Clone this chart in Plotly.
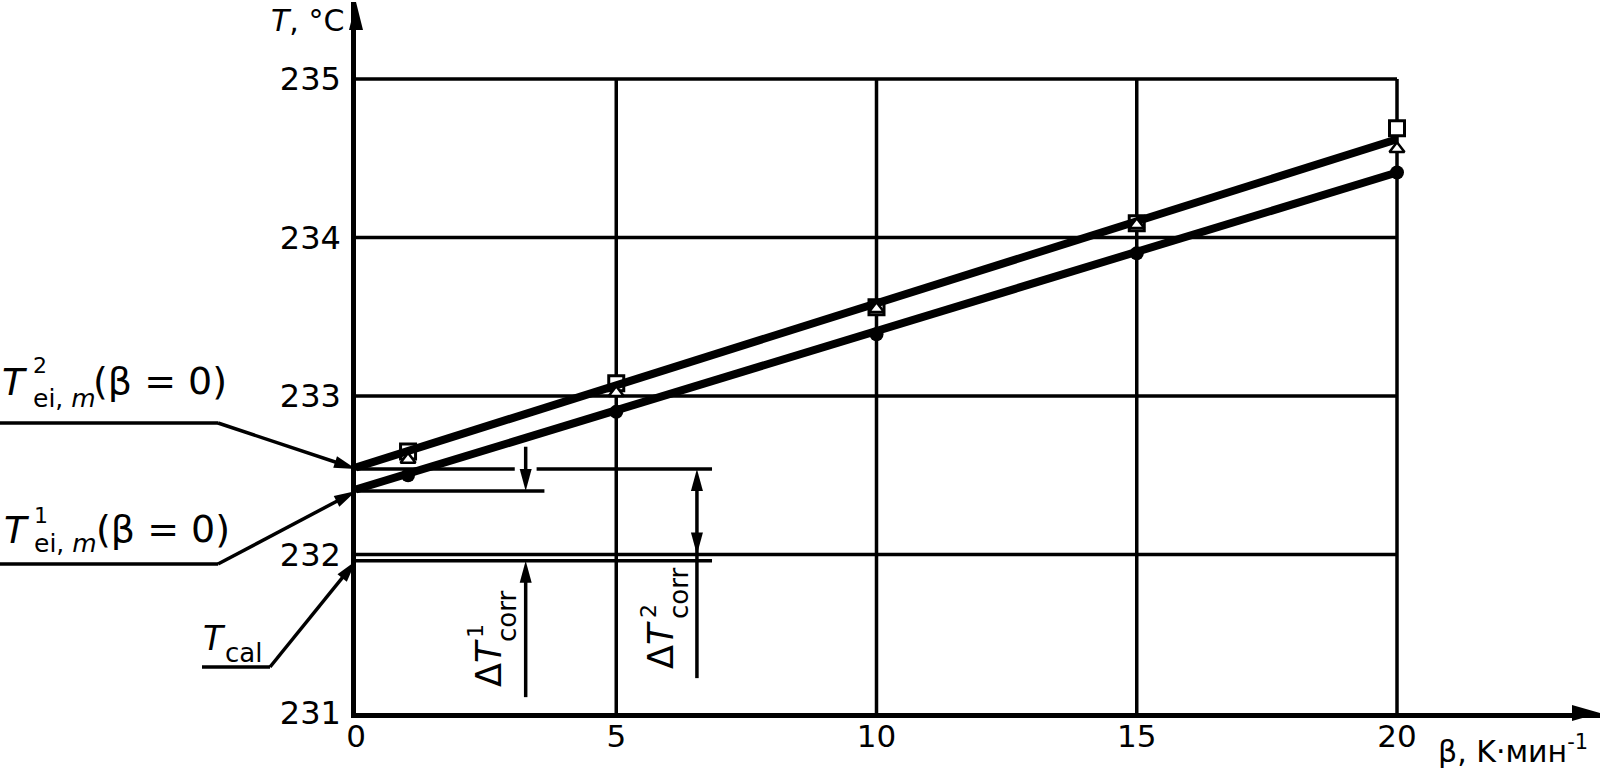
import plotly.graph_objects as go

# ---------------- data ----------------
beta = [1, 5, 10, 15, 20]
T_square = [232.65, 233.08, 233.56, 234.09, 234.69]
T_triangle = [232.60, 233.02, 233.55, 234.08, 234.56]
T_circle = [232.50, 232.90, 233.39, 233.90, 234.41]

fit_beta = [0, 20]
fit_upper = [232.55, 234.62]
fit_lower = [232.41, 234.41]

T2_zero = 232.54
T1_zero = 232.40
T_cal = 231.96

x_ticks = [0, 5, 10, 15, 20]
y_ticks = [231, 232, 233, 234, 235]
x_grid = [5, 10, 15, 20]
y_grid = [232, 233, 234, 235]

# ---------------- geometry ----------------
FIG_W, FIG_H = 1603, 770
M_L, M_R, M_T, M_B = 356, 3, 2, 57
X_RANGE = [0, 23.9]
Y_RANGE = [231, 235.486]
PLOT_W = FIG_W - M_L - M_R
PLOT_H = FIG_H - M_T - M_B
FONT = "DejaVu Sans, Liberation Sans, Arial, sans-serif"
BLACK = "black"


def xp(v):
    return (v - X_RANGE[0]) / (X_RANGE[1] - X_RANGE[0])


def yp(v):
    return (v - Y_RANGE[0]) / (Y_RANGE[1] - Y_RANGE[0])


def px2p(px):
    return (px - M_L) / PLOT_W


def py2p(py):
    return (FIG_H - M_B - py) / PLOT_H


def d2px(v):
    return M_L + xp(v) * PLOT_W


def d2py(v):
    return FIG_H - M_B - yp(v) * PLOT_H


shapes = []
annotations = []


def head_path(ux, uy, length, hw):
    """triangle with tip at (0,0), pointing along (ux,uy) in screen coords (y down);
    returned path uses y-up pixel coordinates."""
    bx, by = -ux * length, -uy * length
    nx, ny = -uy, ux
    p1 = (bx + nx * hw, by + ny * hw)
    p2 = (bx - nx * hw, by - ny * hw)
    return f"M0,0 L{p1[0]:.2f},{-p1[1]:.2f} L{p2[0]:.2f},{-p2[1]:.2f} Z"


def add_head(xref, yref, x, y, ux, uy, length=22, hw=6):
    shapes.append(dict(type="path", xref=xref, yref=yref, xsizemode="pixel", ysizemode="pixel",
                       xanchor=x, yanchor=y, path=head_path(ux, uy, length, hw),
                       fillcolor=BLACK, line=dict(width=0), layer="above"))


def seg(xref, yref, x0, y0, x1, y1, w=3.5, layer="above"):
    shapes.append(dict(type="line", xref=xref, yref=yref, x0=x0, y0=y0, x1=x1, y1=y1,
                       line=dict(color=BLACK, width=w), layer=layer))


def text(t, x, y, size, xanchor="left", angle=0, xref="paper", yref="paper"):
    annotations.append(dict(text=t, x=x, y=y, xref=xref, yref=yref, showarrow=False,
                            xanchor=xanchor, yanchor="middle", textangle=angle,
                            font=dict(family=FONT, size=size, color=BLACK)))


# ---------------- grid ----------------
for xv in x_grid:
    seg("x", "y", xv, y_ticks[0], xv, y_grid[-1], w=3.5, layer="below")
for yv in y_grid:
    seg("x", "y", x_ticks[0], yv, x_grid[-1], yv, w=3.5, layer="below")

# ---------------- dimension lines ----------------
dT1_x = 3.26
dT2_x = 6.55
gap = 0.21
ext_end = 6.84
seg("x", "y", 0, T2_zero, dT1_x - gap, T2_zero)
seg("x", "y", dT1_x + gap, T2_zero, ext_end, T2_zero)
seg("x", "y", 0, T1_zero, 3.62, T1_zero)
seg("x", "y", 0, T_cal, ext_end, T_cal)

# delta T1: arrows pointing inward from outside
seg("x", "y", dT1_x, 232.68, dT1_x, T1_zero + 0.06)
add_head("x", "y", dT1_x, T1_zero, 0, 1)
seg("x", "y", dT1_x, 231.10, dT1_x, T_cal - 0.06)
add_head("x", "y", dT1_x, T_cal, 0, -1)

# delta T2: double arrow, extension below
seg("x", "y", dT2_x, T2_zero - 0.06, dT2_x, 231.22)
add_head("x", "y", dT2_x, T2_zero, 0, -1)
add_head("x", "y", dT2_x, y_grid[0], 0, 1)

# ---------------- axis arrows ----------------
add_head("paper", "paper", 1, 0, 1, 0, length=28, hw=8)
add_head("paper", "paper", 0, 1, 0, -1, length=28, hw=7)


# ---------------- leader lines on left ----------------
def leader(x_start, x_knee, y_knee, yval):
    hx, hy = d2px(0), d2py(yval)
    seg("paper", "paper", px2p(x_start), py2p(y_knee), px2p(x_knee), py2p(y_knee))
    dx, dy = hx - x_knee, hy - y_knee
    n = (dx * dx + dy * dy) ** 0.5
    ux, uy = dx / n, dy / n
    ex, ey = hx - ux * 10, hy - uy * 10
    seg("paper", "paper", px2p(x_knee), py2p(y_knee), px2p(ex), py2p(ey))
    add_head("paper", "paper", px2p(hx), py2p(hy), ux, uy, length=22, hw=6)


leader(0, 218, 423, T2_zero)
leader(0, 218, 564, T1_zero)
leader(202, 270, 667, T_cal)

# ---------------- labels on left ----------------
for (t, x, y, s) in [
    ("<i>T</i>", 0, 382, 37), ("2", 31, 365, 22), ("ei, <i>m</i>", 31, 398, 25), ("(β = 0)", 91, 381, 38),
    ("<i>T</i>", 2, 530, 37), ("1", 32, 515, 22), ("ei, <i>m</i>", 32, 543, 25), ("(β = 0)", 94, 529, 38),
    ("<i>T</i>", 201, 638, 33), ("cal", 223, 653, 26),
]:
    text(t, px2p(x), py2p(y), s)

# ---------------- delta T labels (rotated) ----------------
for (t, x, y, s) in [
    ("Δ<i>T</i>", 489, 663, 35), ("1", 475, 631, 22), ("corr", 507, 617, 26),
    ("Δ<i>T</i>", 661, 645, 35), ("2", 648, 611, 22), ("corr", 679, 594, 26),
]:
    text(t, px2p(x), py2p(y), s, xanchor="center", angle=-90)

# ---------------- axis titles ----------------
text("<i>T</i>, °C", px2p(346), py2p(21), 30, xanchor="right")
text("β, K·мин<sup>-1</sup>", px2p(1436), py2p(749), 30, xanchor="left")

# ---------------- traces ----------------
fig = go.Figure()
fig.add_trace(go.Scatter(x=beta, y=T_square, mode="markers",
                         marker=dict(symbol="square", size=15, color="white",
                                     line=dict(color=BLACK, width=3)), showlegend=False))
fig.add_trace(go.Scatter(x=fit_beta, y=fit_upper, mode="lines",
                         line=dict(color=BLACK, width=8), showlegend=False))
fig.add_trace(go.Scatter(x=fit_beta, y=fit_lower, mode="lines",
                         line=dict(color=BLACK, width=8), showlegend=False))
fig.add_trace(go.Scatter(x=beta, y=T_triangle, mode="markers",
                         marker=dict(symbol="triangle-up", size=13, color="white",
                                     line=dict(color=BLACK, width=2.5)), showlegend=False))
fig.add_trace(go.Scatter(x=beta, y=T_circle, mode="markers",
                         marker=dict(symbol="circle", size=14, color=BLACK,
                                     line=dict(color=BLACK, width=0)), showlegend=False))

fig.update_layout(
    width=FIG_W, height=FIG_H,
    margin=dict(l=M_L, r=M_R, t=M_T, b=M_B, pad=0),
    paper_bgcolor="white", plot_bgcolor="white",
    shapes=shapes, annotations=annotations,
    font=dict(family=FONT, color=BLACK),
    xaxis=dict(range=X_RANGE, tickvals=x_ticks, showgrid=False, zeroline=False,
               showline=True, linecolor=BLACK, linewidth=4.5, ticks="",
               ticklabelstandoff=-8, tickfont=dict(family=FONT, size=31, color=BLACK)),
    yaxis=dict(range=Y_RANGE, tickvals=y_ticks, showgrid=False, zeroline=False,
               showline=True, linecolor=BLACK, linewidth=4.5, ticks="",
               ticklabelstandoff=4, tickfont=dict(family=FONT, size=32, color=BLACK)),
)

fig.write_html("out.html", config={"displayModeBar": False},
               post_script="document.body.style.margin='0';")
